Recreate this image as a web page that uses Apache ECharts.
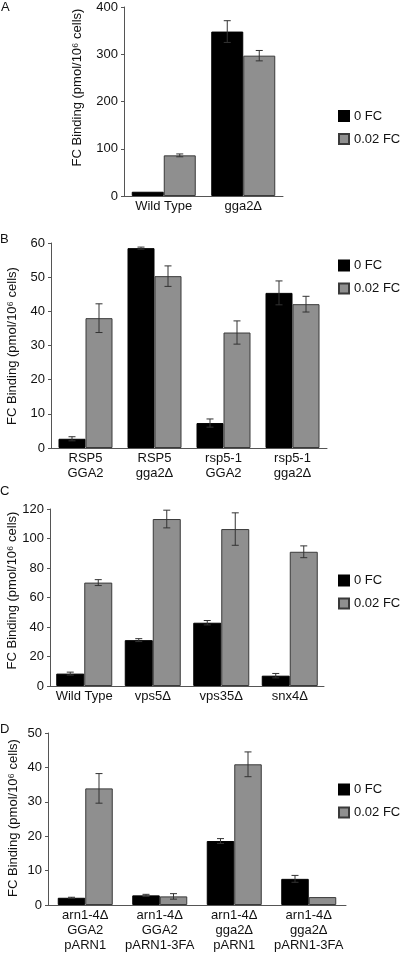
<!DOCTYPE html>
<html>
<head>
<meta charset="utf-8">
<script src="https://cdn.jsdelivr.net/npm/echarts@6/dist/echarts.min.js"></script>
<style>html,body{margin:0;padding:0;background:#fff}#c{width:400px;height:953px}</style>
</head>
<body>
<div id="c"></div>
<script>
// ---- Data ----
const seriesNames = ['0 FC', '0.02 FC'];
const yTitle = 'FC Binding (pmol/10\u2076 cells)';

const catsA = ['Wild Type', 'gga2\u0394'];
const zeroA = [9, 348];
const errZeroA = [0, 23];
const lowA = [86, 297];
const errLowA = [3, 11];

const catsB = ['RSP5\nGGA2', 'RSP5\ngga2\u0394', 'rsp5-1\nGGA2', 'rsp5-1\ngga2\u0394'];
const zeroB = [2.7, 58.5, 7.3, 45.4];
const errZeroB = [0.6, 0.3, 1.2, 3.5];
const lowB = [38, 50.3, 33.8, 42.1];
const errLowB = [4.2, 3, 3.4, 2.3];

const catsC = ['Wild Type', 'vps5\u0394', 'vps35\u0394', 'snx4\u0394'];
const zeroC = [8.4, 31.1, 42.9, 7];
const errZeroC = [1, 1, 1.5, 1.5];
const lowC = [70.1, 113.2, 106.4, 91];
const errLowC = [2, 6, 11, 4];

const catsD = ['arn1-4\u0394\nGGA2\npARN1', 'arn1-4\u0394\nGGA2\npARN1-3FA', 'arn1-4\u0394\ngga2\u0394\npARN1', 'arn1-4\u0394\ngga2\u0394\npARN1-3FA'];
const zeroD = [2.1, 2.8, 18.6, 7.6];
const errZeroD = [0.15, 0.3, 0.7, 1];
const lowD = [33.9, 2.5, 40.9, 2.3];
const errLowD = [4.3, 0.8, 3.6, 0];

const yMax = [400, 60, 120, 50];
const yInt = [100, 10, 20, 10];

// ---- Layout / style ----
const FONT = "'Liberation Sans', Arial, Helvetica, sans-serif";
const AXIS = '#555';
const grids = [
  {left: 124, top: 7, width: 159, height: 189},
  {left: 51, top: 243, width: 276, height: 205},
  {left: 50, top: 509, width: 274, height: 177},
  {left: 48, top: 733, width: 298, height: 174}
];
const barW = [32, 27, 28, 27.5];
const legendTops = [109.5, 259, 574, 783];
const titlePos = [[77, 87.5], [12.5, 346], [12.5, 590.5], [13, 818]];
const letterPos = [[1, 7.5, 'A'], [0, 239, 'B'], [0, 491, 'C'], [0, 729, 'D']];

const panels = [
  {cats: catsA, zero: zeroA, ez: errZeroA, low: lowA, el: errLowA},
  {cats: catsB, zero: zeroB, ez: errZeroB, low: lowB, el: errLowB},
  {cats: catsC, zero: zeroC, ez: errZeroC, low: lowC, el: errLowC},
  {cats: catsD, zero: zeroD, ez: errZeroD, low: lowD, el: errLowD}
];

function errSeries(pi, vals, errs, side) {
  const bw = barW[pi];
  return {
    type: 'custom', xAxisIndex: pi, yAxisIndex: pi, silent: true, z: 10,
    data: vals.map((v, i) => [i, v, errs[i]]),
    renderItem: function (params, api) {
      const i = api.value(0), v = api.value(1), e = api.value(2);
      if (!e) return;
      const c = api.coord([i, v]);
      const t = api.coord([i, v + e]);
      const b = api.coord([i, v - e]);
      const x = c[0] + side * bw / 2;
      const cap = 3.5;
      const st = {stroke: '#333', lineWidth: 1};
      return {type: 'group', children: [
        {type: 'line', shape: {x1: x, y1: t[1], x2: x, y2: b[1]}, style: st},
        {type: 'line', shape: {x1: x - cap, y1: t[1], x2: x + cap, y2: t[1]}, style: st},
        {type: 'line', shape: {x1: x - cap, y1: b[1], x2: x + cap, y2: b[1]}, style: st}
      ]};
    }
  };
}

const option = {
  animation: false,
  backgroundColor: '#fff',
  textStyle: {fontFamily: FONT},
  grid: grids,
  xAxis: panels.map((p, i) => ({
    type: 'category', gridIndex: i, data: p.cats,
    axisLine: {lineStyle: {color: AXIS, width: 1}},
    axisTick: {show: false},
    axisLabel: {color: '#111', fontSize: 13, fontFamily: FONT, margin: 3, lineHeight: 15, interval: 0}
  })),
  yAxis: panels.map((p, i) => ({
    type: 'value', gridIndex: i, min: 0, max: yMax[i], interval: yInt[i],
    splitLine: {show: false},
    axisLine: {show: true, lineStyle: {color: AXIS, width: 1}},
    axisTick: {show: true, length: 3, lineStyle: {color: AXIS}},
    axisLabel: {color: '#111', fontSize: 13, fontFamily: FONT, margin: 6}
  })),
  legend: legendTops.map(t => ({
    orient: 'vertical', left: 338, top: t, padding: 0, itemWidth: 10, itemHeight: 10, itemGap: 10,
    icon: 'rect', data: seriesNames, selectedMode: false,
    textStyle: {fontSize: 13, color: '#111', fontFamily: FONT}
  })),
  graphic: [].concat(
    titlePos.map(p => ({
      type: 'text', x: p[0], y: p[1], rotation: Math.PI / 2,
      style: {text: yTitle, font: '13px ' + FONT, fill: '#111', textAlign: 'center', textVerticalAlign: 'middle'}
    })),
    letterPos.map(p => ({
      type: 'text', x: p[0], y: p[1],
      style: {text: p[2], font: '13px ' + FONT, fill: '#111', textAlign: 'left', textVerticalAlign: 'middle'}
    }))
  ),
  series: []
};

panels.forEach((p, i) => {
  option.series.push({
    name: seriesNames[0], type: 'bar', xAxisIndex: i, yAxisIndex: i, data: p.zero,
    barWidth: barW[i], barGap: '0%',
    itemStyle: {color: '#000', borderColor: '#000', borderWidth: 1}
  });
  option.series.push({
    name: seriesNames[1], type: 'bar', xAxisIndex: i, yAxisIndex: i, data: p.low,
    barWidth: barW[i], barGap: '0%',
    itemStyle: {color: '#8f8f8f', borderColor: '#3a3a3a', borderWidth: 1}
  });
  option.series.push(errSeries(i, p.zero, p.ez, -1));
  option.series.push(errSeries(i, p.low, p.el, 1));
});

const chart = echarts.init(document.getElementById('c'), null, {renderer: 'canvas'});
chart.setOption(option);
</script>
</body>
</html>
